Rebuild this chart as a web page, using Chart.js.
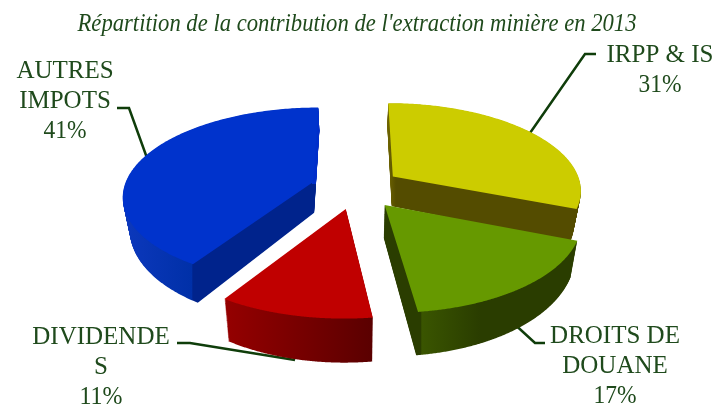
<!DOCTYPE html>
<html>
<head>
<meta charset="utf-8">
<style>
  html, body { margin: 0; background: #fff; }
  canvas { display: block; }
</style>
<script src="https://cdn.jsdelivr.net/npm/chart.js@4"></script>
</head>
<body>
<canvas id="pie" width="720" height="414"></canvas>
<script>
const titleText = "Répartition de la contribution de l'extraction minière en 2013";
const categories = ['IRPP & IS', 'DROITS DE DOUANE', 'DIVIDENDES', 'AUTRES IMPOTS'];
const values = [31, 17, 11, 41];
const topColors = ['#cccc00', '#669900', '#c00000', '#0033cc'];
const labelLines = [['IRPP & IS', '31%'], ['DROITS DE', 'DOUANE', '17%'], ['DIVIDENDE', 'S', '11%'], ['AUTRES', 'IMPOTS', '41%']];

// where the text blocks and leader lines sit
const labelPos = [[660, 62], [615, 343], [101, 344], [65, 78]];
const leaders = [
    [[596, 54], [585, 54], [530, 133]],
    [[545, 343], [535, 343], [510, 320]],
    [[177, 343], [190, 343], [295, 360]],
    [[117, 108], [129, 108], [147, 158]]
];
const TEXT_COLOR = '#1f4a1c', LINE_COLOR = '#0f3d0a';

// tilted disc: perspective projection of the pie plane
const VX = 356, VY = 188, RX = 189, RY = 87, PERSP = 0.144, EXPLODE = 0.24, LAYERS = 44;
const drawOrder = [0, 3, 1, 2];

function project(X, Y, t) {
    const w = 1 - PERSP * Y;
    const x = X * RX / w, y = Y * RY / w;
    const sy = VY + y;
    // lower layers shrink a little to the centre and drop more near the front
    return [VX + x * (1 - 0.03 * t), sy + t * (33 + (sy - 208) * 0.1)];
}

function wallFill(ctx, i) {
    const stops = [
        [388, 396, [[0, '#6e6400'], [1, '#544c00']]],
        [383, 480, [[0, '#2a3d00'], [0.39, '#2a3d00'], [0.4, '#3a5500'], [1, '#2a3d00']]],
        [222, 373, [[0, '#960000'], [1, '#5a0000']]],
        [125, 316, [[0, '#0c38bc'], [0.35, '#0030a8'], [0.355, '#00238c'], [1, '#00238c']]]
    ][i];
    const g = ctx.createLinearGradient(stops[0], 0, stops[1], 0);
    stops[2].forEach(s => g.addColorStop(s[0], s[1]));
    return g;
}

// draw one arc element through a perspective mapped path
function drawSlice(ctx, el, fill, t) {
    const mid = (el.startAngle + el.endAngle) / 2;
    const ox = Math.cos(mid) * EXPLODE, oy = Math.sin(mid) * EXPLODE;
    const map = (px, py) => project((px - el.x) / el.outerRadius + ox, (py - el.y) / el.outerRadius + oy, t);
    const proto = CanvasRenderingContext2D.prototype;
    ctx.lineTo = (px, py) => { const p = map(px, py); proto.lineTo.call(ctx, p[0], p[1]); };
    ctx.moveTo = (px, py) => { const p = map(px, py); proto.moveTo.call(ctx, p[0], p[1]); };
    ctx.arc = (cx, cy, r, a0, a1) => {
        const n = 90;
        for (let k = 0; k <= n; k++) {
            const a = a0 + (a1 - a0) * k / n;
            ctx.lineTo(cx + r * Math.cos(a), cy + r * Math.sin(a));
        }
    };
    ctx.fill = (...args) => { ctx.fillStyle = fill; proto.fill.apply(ctx, args); };
    el.draw(ctx);
    delete ctx.lineTo; delete ctx.moveTo; delete ctx.arc; delete ctx.fill;
}

const pie3d = {
    id: 'pie3d',
    beforeDatasetDraw(chart) {
        const ctx = chart.ctx, arcs = chart.getDatasetMeta(0).data;
        // leader lines run under the slices
        ctx.save();
        ctx.strokeStyle = LINE_COLOR; ctx.lineWidth = 2.5; ctx.lineJoin = 'miter';
        leaders.forEach(pts => {
            ctx.beginPath();
            pts.forEach((p, k) => k ? ctx.lineTo(p[0], p[1]) : ctx.moveTo(p[0], p[1]));
            ctx.stroke();
        });
        ctx.restore();
        drawOrder.forEach(i => {
            const wall = wallFill(ctx, i);
            for (let l = LAYERS; l > 0; l--) drawSlice(ctx, arcs[i], wall, l / LAYERS);
            if (i === 3) {
                // the blue slice's upper right edge is not shaded
                ctx.save();
                ctx.beginPath(); ctx.rect(312, 100, 16, 84); ctx.clip();
                for (let l = LAYERS; l > 0; l--) drawSlice(ctx, arcs[i], topColors[i], l / LAYERS);
                ctx.restore();
            }
            drawSlice(ctx, arcs[i], topColors[i], 0);
        });
        return false;
    },
    afterDatasetsDraw(chart) {
        const ctx = chart.ctx;
        ctx.save();
        ctx.fillStyle = TEXT_COLOR;
        ctx.textAlign = 'center';
        ctx.font = 'italic 25px "Liberation Serif"';
        ctx.fillText(titleText, 357, 31, 559);
        ctx.font = '25px "Liberation Serif"';
        labelLines.forEach((lines, i) => {
            lines.forEach((s, k) => ctx.fillText(s, labelPos[i][0], labelPos[i][1] + k * 30, s.endsWith('%') ? 43 : 140));
        });
        ctx.restore();
    }
};

new Chart(document.getElementById('pie'), {
    type: 'pie',
    data: {
        labels: categories,
        datasets: [{ data: values, backgroundColor: topColors, borderWidth: 0 }]
    },
    options: {
        responsive: false,
        animation: false,
        plugins: {
            legend: { display: false },
            tooltip: { enabled: false }
        }
    },
    plugins: [pie3d]
});
</script>
</body>
</html>
